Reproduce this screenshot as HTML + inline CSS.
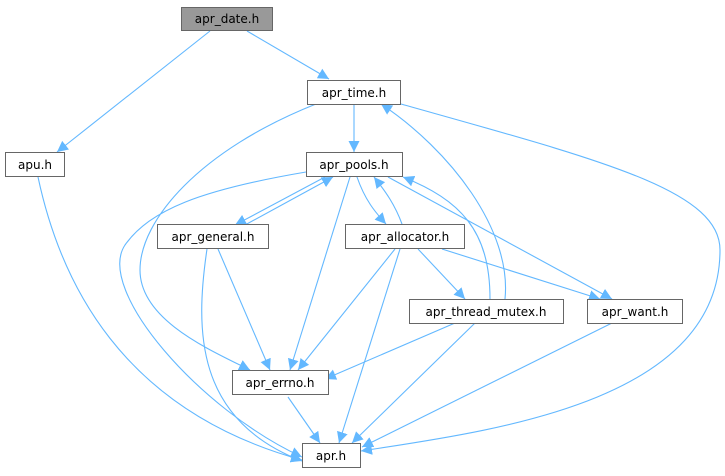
<!DOCTYPE html>
<html><head><meta charset="utf-8"><style>
html,body{margin:0;padding:0;background:#fff;width:725px;height:476px;overflow:hidden}
svg{display:block}
text{font-family:"DejaVu Sans","Liberation Sans",sans-serif;font-size:12px;fill:#000}
</style></head><body>
<svg width="725" height="476" viewBox="0 0 725 476" xmlns="http://www.w3.org/2000/svg">
<defs>
<marker id="a" viewBox="0 0 10 10" refX="10" refY="5" markerWidth="11" markerHeight="11" markerUnits="userSpaceOnUse" orient="auto">
<path d="M0,0 L10,5 L0,10 z" fill="#63b8ff"/>
</marker>
</defs>
<g fill="none" stroke="#63b8ff" stroke-width="1.1" marker-end="url(#a)">
<path d="M210,31 L57,152"/>
<path d="M247,31 L329,79"/>
<path d="M38,177 C60,280 120,410 302,460"/>
<path d="M354,104 L354,152"/>
<path d="M316,104 C200,150 140,220 140,270 C140,320 210,350 250,370"/>
<path d="M401,104 C600,160 720,190 720,250 C720,400 500,430 361,451"/>
<path d="M306,172 C200,190 150,210 125,245 C95,290 200,410 302,457"/>
<path d="M325,177 L235,225"/>
<path d="M245,225 L333,177"/>
<path d="M350,177 L290,370"/>
<path d="M357,177 C365,200 375,212 386,224"/>
<path d="M402,224 C395,205 386,192 374,177"/>
<path d="M388,177 L612,299"/>
<path d="M490,299 C490,230 460,200 403,177"/>
<path d="M505,299 C512,230 450,150 381,104"/>
<path d="M218,249 L270,370"/>
<path d="M207,249 C195,330 195,420 302,461"/>
<path d="M395,249 L298,370"/>
<path d="M400,249 L339,443"/>
<path d="M418,249 L465,299"/>
<path d="M442,249 L600,299"/>
<path d="M455,323 L325,379"/>
<path d="M475,323 L352,443"/>
<path d="M612,323 L362,447"/>
<path d="M288,397 L320,443"/>
</g>
<g stroke="#666" stroke-width="1">
<rect x="181.5" y="7.5" width="91" height="23" fill="#999"/>
<rect x="5.5" y="152.5" width="59" height="24" fill="#fff"/>
<rect x="307.5" y="80.5" width="93" height="24" fill="#fff"/>
<rect x="306.5" y="152.5" width="96" height="24" fill="#fff"/>
<rect x="157.5" y="224.5" width="111" height="24" fill="#fff"/>
<rect x="345.5" y="224.5" width="119" height="24" fill="#fff"/>
<rect x="409.5" y="299.5" width="154" height="24" fill="#fff"/>
<rect x="587.5" y="299.5" width="95" height="24" fill="#fff"/>
<rect x="232.5" y="370.5" width="96" height="24" fill="#fff"/>
<rect x="302.5" y="443.5" width="58" height="24" fill="#fff"/>
</g>
<g text-anchor="middle">
<text x="227" y="23">apr_date.h</text>
<text x="35" y="169">apu.h</text>
<text x="354" y="97">apr_time.h</text>
<text x="354" y="169">apr_pools.h</text>
<text x="213" y="241">apr_general.h</text>
<text x="405" y="241">apr_allocator.h</text>
<text x="486" y="316">apr_thread_mutex.h</text>
<text x="635" y="316">apr_want.h</text>
<text x="280" y="387">apr_errno.h</text>
<text x="331" y="460">apr.h</text>
</g>
</svg>
</body></html>
